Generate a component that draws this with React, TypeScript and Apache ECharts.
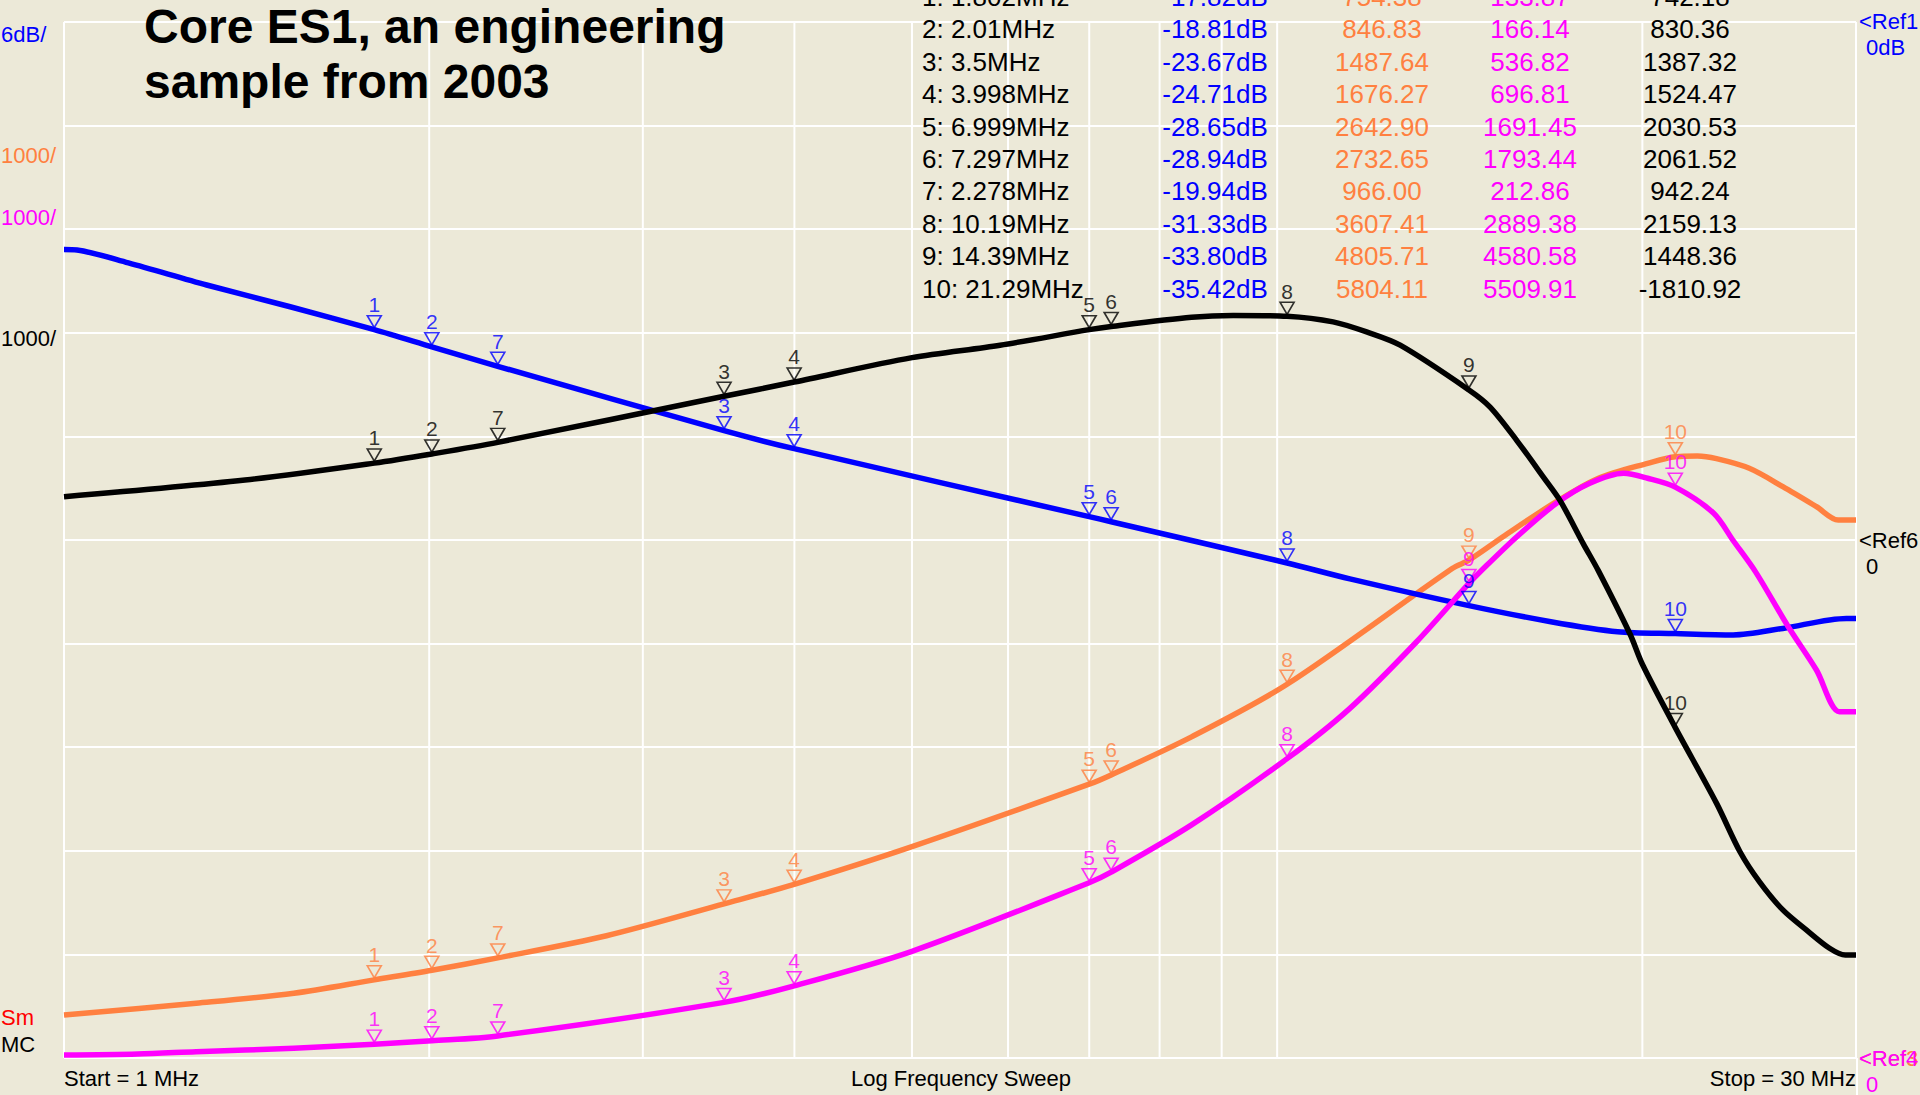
import React, { useEffect, useRef } from "react";
import * as echarts from "echarts";

const BG = "#ECE9D8";
const BLUE = "#0000FF";
const ORANGE = "#FF8040";
const MAGENTA = "#FF00FF";
const BLACK = "#000000";
const RED = "#FF0000";
const FONT = '"Liberation Sans", Arial, sans-serif';

// vertical grid lines (MHz), log sweep 1..30 MHz
const gridFreqs = [1, 2, 3, 4, 5, 6, 7, 8, 9, 10, 20, 30];

// traces: [MHz, value]
const blueTrace: [number, number][] = [
  [1.0, -13.17], [1.025, -13.2], [1.13, -13.95], [1.311, -15.23], [1.536, -16.49],
  [1.802, -17.82], [2.01, -18.81], [2.278, -19.94], [3.5, -23.67], [3.998, -24.71],
  [6.999, -28.65], [7.297, -28.94], [10.19, -31.33], [11.48, -32.25], [14.39, -33.8],
  [16.81, -34.73], [19.08, -35.31], [21.29, -35.42], [23.76, -35.5], [26.11, -35.12],
  [29.46, -34.54], [30, -34.54],
];
const orangeTrace: [number, number][] = [
  [1.0, 415], [1.285, 528], [1.547, 625], [1.802, 754.38], [2.01, 846.83], [2.278, 966.0],
  [2.8, 1180], [3.5, 1487.64], [3.998, 1676.27], [5.0, 2040], [6.999, 2642.9], [7.297, 2732.65],
  [8.5, 3100], [10.19, 3607.41], [13.95, 4727], [14.39, 4805.71], [15.5, 5065], [16.99, 5370],
  [18.4, 5596], [20.2, 5740], [21.29, 5804.11], [22.2, 5810], [23.02, 5785], [24.5, 5692],
  [26.11, 5515], [27.83, 5322], [29.0, 5193], [30, 5193],
];
const magentaTrace: [number, number][] = [
  [1.0, 29], [1.15, 39], [1.285, 61], [1.547, 94], [1.802, 133.87], [2.01, 166.14],
  [2.278, 212.86], [3.5, 536.82], [3.998, 696.81], [5.0, 1030], [6.999, 1691.45],
  [7.297, 1793.44], [8.5, 2250], [10.19, 2889.38], [11.48, 3375], [13.03, 4018],
  [14.39, 4580.58], [14.75, 4710], [15.76, 5032], [16.99, 5354], [18.1, 5547], [19.3, 5644],
  [20.2, 5596], [21.29, 5509.91], [22.9, 5258], [23.76, 4995], [24.8, 4690], [26.38, 4163],
  [27.83, 3745], [29.07, 3343], [30, 3343],
];
const blackTrace: [number, number][] = [
  [1.0, 418], [1.41, 579], [1.802, 742.18], [2.01, 830.36], [2.278, 942.24], [3.5, 1387.32],
  [3.998, 1524.47], [5.0, 1760], [5.91, 1880], [6.999, 2030.53], [7.297, 2061.52], [8.5, 2150],
  [9.2, 2168], [10.19, 2159.13], [11.12, 2105], [11.85, 2008], [12.63, 1880],
  [14.39, 1448.36], [14.98, 1283], [15.76, 960], [16.58, 605], [17.11, 380], [17.88, -37],
  [18.4, -298], [19.54, -910], [20.0, -1200], [21.29, -1810.92], [23.02, -2540],
  [24.07, -3009], [24.98, -3300], [26.11, -3571], [27.3, -3764], [28.53, -3941],
  [29.4, -4006], [30, -4006],
];

// markers
const markerNames = ["1", "2", "3", "4", "5", "6", "7", "8", "9", "10"];
const markerFreqs = [1.802, 2.01, 3.5, 3.998, 6.999, 7.297, 2.278, 10.19, 14.39, 21.29];
const markerFreqLabels = [
  "1: 1.802MHz", "2: 2.01MHz", "3: 3.5MHz", "4: 3.998MHz", "5: 6.999MHz",
  "6: 7.297MHz", "7: 2.278MHz", "8: 10.19MHz", "9: 14.39MHz", "10: 21.29MHz",
];
const markerBlue = [-17.82, -18.81, -23.67, -24.71, -28.65, -28.94, -19.94, -31.33, -33.8, -35.42];
const markerOrange = [754.38, 846.83, 1487.64, 1676.27, 2642.9, 2732.65, 966.0, 3607.41, 4805.71, 5804.11];
const markerMagenta = [133.87, 166.14, 536.82, 696.81, 1691.45, 1793.44, 212.86, 2889.38, 4580.58, 5509.91];
const markerBlack = [742.18, 830.36, 1387.32, 1524.47, 2030.53, 2061.52, 942.24, 2159.13, 1448.36, -1810.92];

const titleLines = ["Core ES1, an engineering", "sample from 2003"];

export default function App() {
  const ref = useRef<HTMLDivElement>(null);
  useEffect(() => {
    if (!ref.current) return;
    const chart = echarts.init(ref.current, undefined, { renderer: "svg" });

    const traceSeries = (data: [number, number][], color: string, yAxisIndex: number, z: number) => ({
      type: "line",
      yAxisIndex,
      data,
      smooth: 0.3,
      symbol: "none",
      showSymbol: false,
      silent: true,
      z,
      lineStyle: { color, width: 5.5, cap: "butt", join: "round" },
    });

    const markerSeries = (vals: number[], color: string, yAxisIndex: number) => ({
      type: "scatter",
      yAxisIndex,
      z: 10,
      silent: true,
      symbol: "path://M0,0L14,0L7,12Z",
      symbolSize: [14, 12],
      symbolOffset: [0, -8],
      itemStyle: { color: "rgba(0,0,0,0)", borderColor: color, borderWidth: 1.6 },
      label: {
        show: true,
        position: "top",
        distance: 0,
        formatter: (p: any) => p.name,
        color,
        fontSize: 21,
        fontFamily: FONT,
      },
      data: markerFreqs.map((f, i) => ({ name: markerNames[i], value: [f, vals[i]] })),
    });

    const gridSeries = gridFreqs.map((f) => ({
      type: "line",
      yAxisIndex: 0,
      data: [[f, -60], [f, 0]],
      symbol: "none",
      silent: true,
      z: 1,
      lineStyle: { color: "#FFFFFF", width: 2 },
    }));

    const graphics: any[] = [];
    const txt = (text: string, x: number, y: number, color: string, size: number, align = "left", weight = "normal") => {
      graphics.push({
        type: "text",
        x,
        y,
        z: 100,
        silent: true,
        style: {
          text,
          fill: color,
          fontSize: size,
          fontFamily: FONT,
          fontWeight: weight,
          align,
          verticalAlign: "middle",
        },
      });
    };

    // title
    txt(titleLines[0], 144, 26, BLACK, 48, "left", "bold");
    txt(titleLines[1], 144, 81, BLACK, 48, "left", "bold");

    // marker table (first row is cut off at the top edge, as in the original)
    markerFreqLabels.forEach((lab, i) => {
      const y = -3 + i * 32.4;
      txt(lab, 922, y, BLACK, 26, "left");
      txt(markerBlue[i].toFixed(2) + "dB", 1215, y, BLUE, 26, "center");
      txt(markerOrange[i].toFixed(2), 1382, y, ORANGE, 26, "center");
      txt(markerMagenta[i].toFixed(2), 1530, y, MAGENTA, 26, "center");
      txt(markerBlack[i].toFixed(2), 1690, y, BLACK, 26, "center");
    });

    // left scale labels
    txt("6dB/", 1, 34, BLUE, 22);
    txt("1000/", 1, 155, ORANGE, 22);
    txt("1000/", 1, 217, MAGENTA, 22);
    txt("1000/", 1, 338, BLACK, 22);
    txt("Sm", 1, 1017, RED, 22);
    txt("MC", 1, 1044, BLACK, 22);

    // right reference labels
    txt("<Ref1", 1859, 21, BLUE, 22);
    txt("0dB", 1866, 47, BLUE, 22);
    txt("<Ref6", 1859, 540, BLACK, 22);
    txt("0", 1866, 566, BLACK, 22);
    txt("<Ref3", 1859, 1058, ORANGE, 22);
    txt("<Ref4", 1859, 1058, MAGENTA, 22);
    txt("0", 1866, 1084, MAGENTA, 22);

    // bottom labels
    txt("Start = 1 MHz", 64, 1078, BLACK, 22, "left");
    txt("Log Frequency Sweep", 961, 1078, BLACK, 22, "center");
    txt("Stop = 30 MHz", 1856, 1078, BLACK, 22, "right");

    graphics.push({
      type: "line",
      z: 0,
      silent: true,
      shape: { x1: 1857, y1: 1058, x2: 1857, y2: 1095 },
      style: { stroke: "#FFFFFF", lineWidth: 2 },
    });

    chart.setOption({
      animation: false,
      backgroundColor: BG,
      grid: { left: 64, right: 64, top: 22, bottom: 37, containLabel: false },
      xAxis: {
        type: "log",
        logBase: 10,
        min: 1,
        max: 30,
        axisLine: { show: false },
        axisTick: { show: false },
        axisLabel: { show: false },
        splitLine: { show: false },
      },
      yAxis: [
        {
          type: "value",
          min: -60,
          max: 0,
          interval: 6,
          axisLine: { show: false },
          axisTick: { show: false },
          axisLabel: { show: false },
          splitLine: { show: true, lineStyle: { color: "#FFFFFF", width: 2 } },
        },
        { type: "value", min: 0, max: 10000, interval: 1000, show: false, splitLine: { show: false } },
        { type: "value", min: -5000, max: 5000, interval: 1000, show: false, splitLine: { show: false } },
      ],
      graphic: graphics,
      series: [
        ...gridSeries,
        traceSeries(orangeTrace, ORANGE, 1, 3),
        traceSeries(blueTrace, BLUE, 0, 4),
        traceSeries(magentaTrace, MAGENTA, 1, 5),
        traceSeries(blackTrace, BLACK, 2, 6),
        markerSeries(markerOrange, ORANGE, 1),
        markerSeries(markerBlue, BLUE, 0),
        markerSeries(markerMagenta, MAGENTA, 1),
        markerSeries(markerBlack, BLACK, 2),
      ],
    } as any);

    return () => chart.dispose();
  }, []);

  return (
    <div
      ref={ref}
      style={{ position: "fixed", left: 0, top: 0, width: 1920, height: 1095, background: BG }}
    />
  );
}
